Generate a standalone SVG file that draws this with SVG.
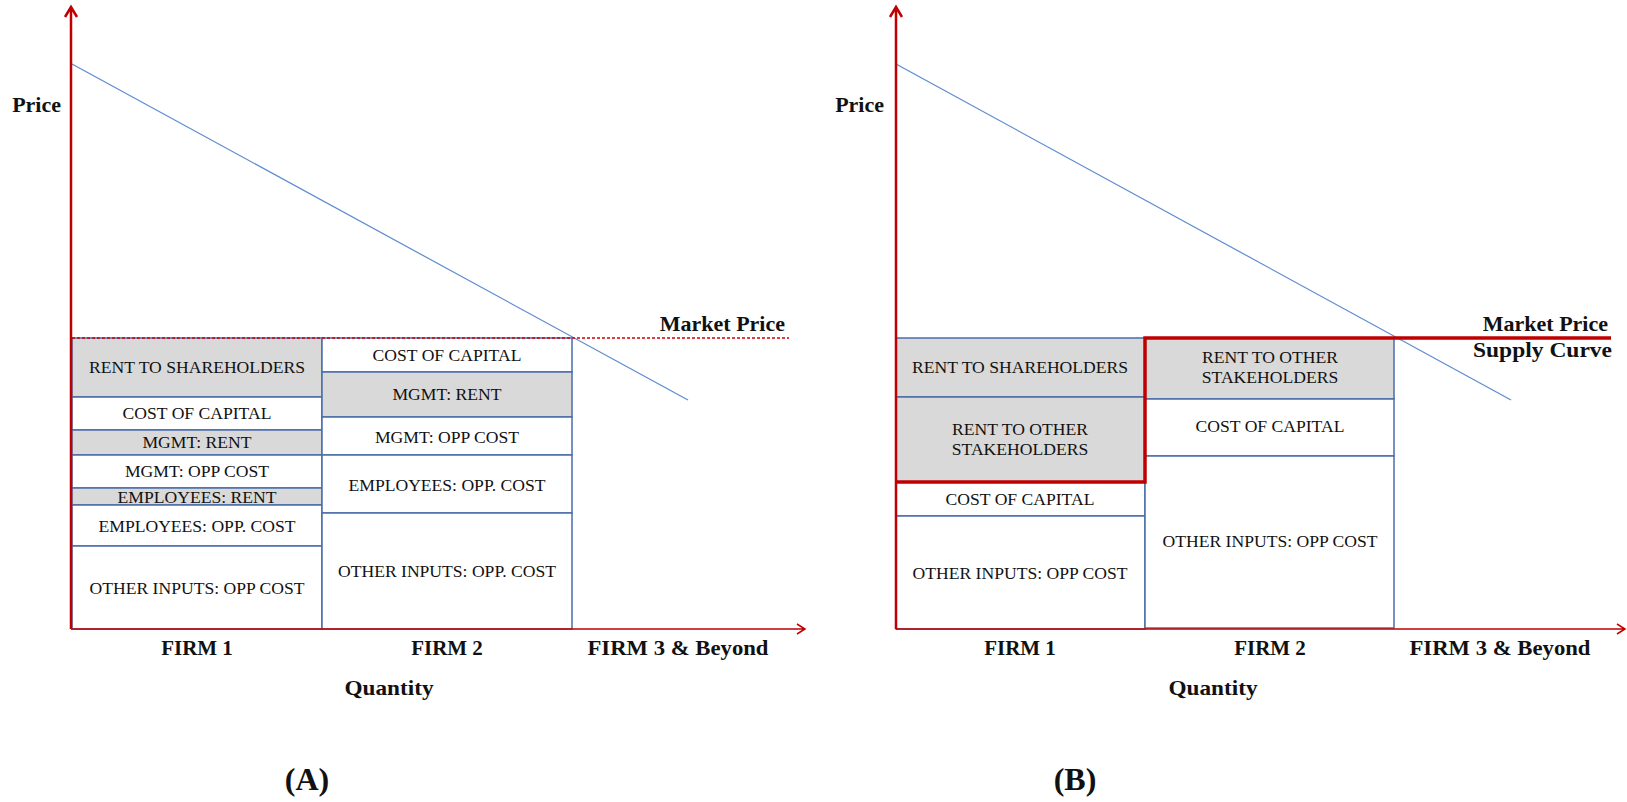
<svg xmlns="http://www.w3.org/2000/svg" width="1627" height="802" viewBox="0 0 1627 802">
<style>
.bx{stroke:#4a6ea8;stroke-width:1.5}
.g{fill:#d9d9d9}
.w{fill:#ffffff}
.t{font-family:"Liberation Serif","Times New Roman",serif;font-size:17.6px;fill:#111;text-anchor:middle}
.lb{font-family:"Liberation Serif","Times New Roman",serif;font-weight:bold;font-size:21px;fill:#111;text-anchor:middle}
.lbe{font-family:"Liberation Serif","Times New Roman",serif;font-weight:bold;font-size:22px;fill:#111;text-anchor:end}
.pl{font-family:"Liberation Serif","Times New Roman",serif;font-weight:bold;font-size:32px;fill:#111;text-anchor:middle}
.yax{stroke:#c00000;stroke-width:2.5;fill:none}
.xax{stroke:#c00000;stroke-width:1.5;fill:none}
.dem{stroke:#5b8bd0;stroke-width:1.2;fill:none}
</style>
<rect width="1627" height="802" fill="#ffffff"/>

<!-- Panel A boxes -->
<g id="a-f1-rent-sh"><rect class="bx g" x="72" y="338" width="250" height="59"/><text class="t" x="197" y="373">RENT TO SHAREHOLDERS</text></g>
<g id="a-f1-coc"><rect class="bx w" x="72" y="397" width="250" height="33"/><text class="t" x="197" y="419">COST OF CAPITAL</text></g>
<g id="a-f1-mgmt-rent"><rect class="bx g" x="72" y="430" width="250" height="25"/><text class="t" x="197" y="448">MGMT: RENT</text></g>
<g id="a-f1-mgmt-opp"><rect class="bx w" x="72" y="455" width="250" height="33"/><text class="t" x="197" y="477">MGMT: OPP COST</text></g>
<g id="a-f1-emp-rent"><rect class="bx g" x="72" y="488" width="250" height="17"/><text class="t" x="197" y="503">EMPLOYEES: RENT</text></g>
<g id="a-f1-emp-opp"><rect class="bx w" x="72" y="505" width="250" height="41"/><text class="t" x="197" y="532">EMPLOYEES: OPP. COST</text></g>
<g id="a-f1-other"><rect class="bx w" x="72" y="546" width="250" height="83"/><text class="t" x="197" y="594">OTHER INPUTS: OPP COST</text></g>

<g id="a-f2-coc"><rect class="bx w" x="322" y="338" width="250" height="34"/><text class="t" x="447" y="361">COST OF CAPITAL</text></g>
<g id="a-f2-mgmt-rent"><rect class="bx g" x="322" y="372" width="250" height="45"/><text class="t" x="447" y="400">MGMT: RENT</text></g>
<g id="a-f2-mgmt-opp"><rect class="bx w" x="322" y="417" width="250" height="38"/><text class="t" x="447" y="443">MGMT: OPP COST</text></g>
<g id="a-f2-emp-opp"><rect class="bx w" x="322" y="455" width="250" height="58"/><text class="t" x="447" y="491">EMPLOYEES: OPP. COST</text></g>
<g id="a-f2-other"><rect class="bx w" x="322" y="513" width="250" height="116"/><text class="t" x="447" y="577">OTHER INPUTS: OPP. COST</text></g>

<!-- Panel B boxes -->
<g id="b-f1-rent-sh"><rect class="bx g" x="896" y="338" width="249" height="59"/><text class="t" x="1020" y="373">RENT TO SHAREHOLDERS</text></g>
<g id="b-f1-rent-other"><rect class="bx g" x="896" y="397" width="249" height="85"/><text class="t" x="1020" y="435">RENT TO OTHER</text><text class="t" x="1020" y="455">STAKEHOLDERS</text></g>
<g id="b-f1-coc"><rect class="bx w" x="896" y="482" width="249" height="34"/><text class="t" x="1020" y="505">COST OF CAPITAL</text></g>
<g id="b-f1-other"><rect class="bx w" x="896" y="516" width="249" height="113"/><text class="t" x="1020" y="579">OTHER INPUTS: OPP COST</text></g>

<g id="b-f2-rent-other"><rect class="bx g" x="1145" y="338" width="249" height="61"/><text class="t" x="1270" y="363">RENT TO OTHER</text><text class="t" x="1270" y="383">STAKEHOLDERS</text></g>
<g id="b-f2-coc"><rect class="bx w" x="1145" y="399" width="249" height="57"/><text class="t" x="1270" y="432">COST OF CAPITAL</text></g>
<g id="b-f2-other"><rect class="bx w" x="1145" y="456" width="249" height="172"/><text class="t" x="1270" y="547">OTHER INPUTS: OPP COST</text></g>

<!-- Connectors: axes, demand curves, price lines -->
<g id="connectors">
  <line class="dem" x1="72" y1="64" x2="688" y2="400"/>
  <line x1="72" y1="338" x2="789" y2="338" stroke="#d00000" stroke-width="1.3" stroke-dasharray="3 2"/>
  <path class="yax" d="M71,629 V7 M65,17 L71,7 L77,17"/>
  <path class="xax" d="M71,629 H805 M797,624 L805,629 L797,634"/>

  <line class="dem" x1="896" y1="64" x2="1511" y2="400"/>
  <path d="M896,482 H1145 V338 H1611" stroke="#c00000" stroke-width="3.5" fill="none"/>
  <path class="yax" d="M896,629 V7 M890,17 L896,7 L902,17"/>
  <path class="xax" d="M896,629 H1625 M1617,624 L1625,629 L1617,634"/>
</g>

<!-- Labels panel A -->
<g id="labels-a">
  <text class="lbe" x="61" y="112">Price</text>
  <text class="lbe" x="785" y="331">Market Price</text>
  <text class="lb" x="197" y="655">FIRM 1</text>
  <text class="lb" x="447" y="655">FIRM 2</text>
  <text class="lb" x="678" y="655" textLength="181" lengthAdjust="spacingAndGlyphs">FIRM 3 &amp; Beyond</text>
  <text class="lb" x="389" y="695" font-size="22" textLength="89" lengthAdjust="spacingAndGlyphs">Quantity</text>
  <text class="pl" x="307" y="790">(A)</text>
</g>
<!-- Labels panel B -->
<g id="labels-b">
  <text class="lbe" x="884" y="112">Price</text>
  <text class="lbe" x="1608" y="331">Market Price</text>
  <text class="lbe" x="1612" y="357" textLength="139" lengthAdjust="spacingAndGlyphs">Supply Curve</text>
  <text class="lb" x="1020" y="655">FIRM 1</text>
  <text class="lb" x="1270" y="655">FIRM 2</text>
  <text class="lb" x="1500" y="655" textLength="181" lengthAdjust="spacingAndGlyphs">FIRM 3 &amp; Beyond</text>
  <text class="lb" x="1213" y="695" font-size="22" textLength="89" lengthAdjust="spacingAndGlyphs">Quantity</text>
  <text class="pl" x="1075" y="790">(B)</text>
</g>
</svg>
